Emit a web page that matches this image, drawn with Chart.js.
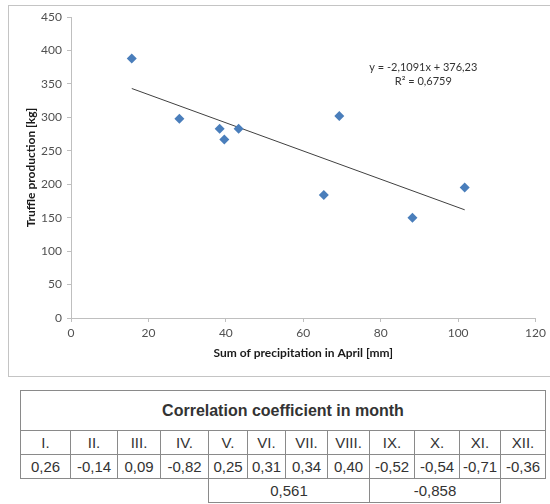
<!DOCTYPE html>
<html>
<head>
<meta charset="utf-8">
<script src="https://cdn.jsdelivr.net/npm/chart.js@4/dist/chart.umd.min.js"></script>
<style>
  html, body { margin: 0; padding: 0; background: #fff; overflow: hidden; }
  body { width: 550px; height: 504px; position: relative; }
  #box { position: absolute; left: 8px; top: 5px; width: 560px; height: 370px;
         border: 1px solid #c4c4c4; border-right: none; }
  #wrap { position: absolute; left: 0; top: 0; width: 550px; height: 380px; }
  #corr { position: absolute; left: 20px; top: 390px; border-collapse: collapse;
          font-family: "Liberation Sans", Arial, sans-serif; color: #333; table-layout: fixed; }
  #corr td { border: 1px solid #8a8a8a; text-align: center; padding: 0; font-size: 15px; }
  #corr td.title { height: 39px; font-weight: bold; font-size: 16px; }
  #corr tr.row { height: 24px; }
  #corr td.blank { border: none; }
</style>
</head>
<body>
<div id="box"></div>
<div id="wrap"><canvas id="chart" width="550" height="380"></canvas></div>
<table id="corr"></table>
<script>
// Dane do wykresu punktowego (opad w kwietniu vs produkcja trufli)
const precipitation = [15.7, 28, 38.4, 39.6, 43.3, 65.3, 69.3, 88.2, 101.7];
const production = [388, 298, 283, 267, 283, 184, 302, 150, 195];

// Linia trendu (z równania na wykresie)
const slope = -2.1091;
const intercept = 376.23;
const equationText = "y = -2,1091x + 376,23";
const r2Text = "R\u00B2 = 0,6759";

// Tabela współczynników korelacji
const tableTitle = "Correlation coefficient in month";
const months = ["I.", "II.", "III.", "IV.", "V.", "VI.", "VII.", "VIII.", "IX.", "X.", "XI.", "XII."];
const coefficients = ["0,26", "-0,14", "0,09", "-0,82", "0,25", "0,31", "0,34", "0,40", "-0,52", "-0,54", "-0,71", "-0,36"];
const groupLabels = ["", "0,561", "-0,858", ""];
const groupSpans = [4, 4, 3, 1];
const colWidths = [50, 47, 43, 48, 39, 38, 42, 42, 45, 45, 41, 45];

const xMin = Math.min(...precipitation);
const xMax = Math.max(...precipitation);
const trend = [
  { x: xMin, y: slope * xMin + intercept },
  { x: xMax, y: slope * xMax + intercept }
];

const points = precipitation.map((x, i) => ({ x, y: production[i] }));

// Podpis równania trendu
const equationLabel = {
  id: "equationLabel",
  afterDatasetsDraw(chart) {
    const { ctx, scales } = chart;
    const cx = scales.x.getPixelForValue(91);
    const y1 = scales.y.getPixelForValue(374.5);
    const y2 = scales.y.getPixelForValue(353.5);
    ctx.save();
    ctx.font = "11px Lato";
    ctx.fillStyle = "#333";
    ctx.textAlign = "center";
    ctx.textBaseline = "middle";
    ctx.fillText(equationText, cx, y1);
    ctx.fillText(r2Text, cx, y2);
    ctx.restore();
  }
};

const axisColor = "#bfbfbf";
const tickColor = "#505050";

new Chart(document.getElementById("chart").getContext("2d"), {
  type: "scatter",
  data: {
    datasets: [
      {
        label: "Production",
        data: points,
        pointStyle: "rectRot",
        pointRadius: 5,
        pointHoverRadius: 5,
        backgroundColor: "#4a7ebb",
        borderColor: "#4a7ebb",
        borderWidth: 0
      },
      {
        label: "Trend",
        type: "line",
        data: trend,
        borderColor: "#404040",
        borderWidth: 1,
        pointRadius: 0,
        fill: false
      }
    ]
  },
  options: {
    responsive: false,
    animation: false,
    layout: { padding: { left: 8, top: 17, right: 13, bottom: 16 } },
    plugins: { legend: { display: false }, tooltip: { enabled: false } },
    scales: {
      x: {
        type: "linear",
        min: 0,
        max: 120,
        afterFit(scale) { scale.height = 46; },
        ticks: { stepSize: 20, color: tickColor, font: { family: "Lato", size: 12 }, padding: 4, maxRotation: 0 },
        grid: { drawOnChartArea: false, drawTicks: true, tickLength: 4, color: axisColor },
        border: { color: axisColor },
        title: { display: true, text: "Sum of precipitation in April [mm]", color: "#1a1a1a",
                 font: { family: "Lato", size: 12, weight: "bold" }, padding: { top: 4, bottom: 4 } }
      },
      y: {
        min: 0,
        max: 450,
        afterFit(scale) { scale.width = 63; },
        ticks: { stepSize: 50, color: tickColor, font: { family: "Lato", size: 12 }, padding: 5 },
        grid: { drawOnChartArea: false, drawTicks: true, tickLength: 4, color: axisColor },
        border: { color: axisColor },
        title: { display: true, text: "Truffle production [kg]", color: "#1a1a1a",
                 font: { family: "Lato", size: 12, weight: "bold" }, padding: { top: 16, bottom: 0 } }
      }
    }
  },
  plugins: [equationLabel]
});

// Budowa tabeli
const table = document.getElementById("corr");
const cg = document.createElement("colgroup");
colWidths.forEach(w => {
  const c = document.createElement("col");
  c.style.width = w + "px";
  cg.appendChild(c);
});
table.appendChild(cg);

const trTitle = document.createElement("tr");
const tdTitle = document.createElement("td");
tdTitle.colSpan = months.length;
tdTitle.className = "title";
tdTitle.textContent = tableTitle;
trTitle.appendChild(tdTitle);
table.appendChild(trTitle);

[months, coefficients].forEach(list => {
  const tr = document.createElement("tr");
  tr.className = "row";
  list.forEach(t => {
    const td = document.createElement("td");
    td.textContent = t;
    tr.appendChild(td);
  });
  table.appendChild(tr);
});

const trGroup = document.createElement("tr");
trGroup.className = "row";
groupLabels.forEach((t, i) => {
  const td = document.createElement("td");
  td.colSpan = groupSpans[i];
  td.textContent = t;
  if (!t) td.className = "blank";
  trGroup.appendChild(td);
});
table.appendChild(trGroup);
</script>
</body>
</html>
